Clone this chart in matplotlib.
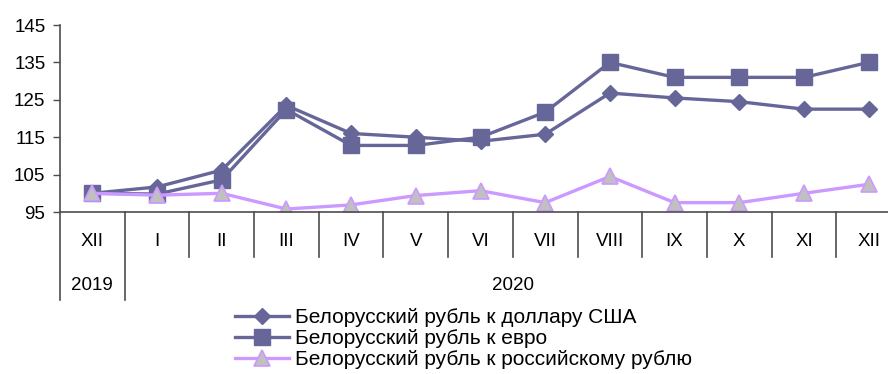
import matplotlib.pyplot as plt
import matplotlib.transforms as mtransforms

months = ['XII', 'I', 'II', 'III', 'IV', 'V', 'VI', 'VII', 'VIII', 'IX', 'X', 'XI', 'XII']
years = ['2019', '2020']
usd = [100, 101.7, 106.2, 123.5, 116, 115, 113.9, 115.8, 126.8, 125.5, 124.5, 122.5, 122.5]
eur = [100, 99.8, 103.6, 122.4, 112.8, 112.8, 115, 121.7, 135, 131, 131, 131, 135]
rub = [100, 99.5, 100, 95.8, 96.9, 99.4, 100.7, 97.5, 104.5, 97.5, 97.5, 100, 102.4]

names = ['Белорусский рубль к доллару США',
         'Белорусский рубль к евро',
         'Белорусский рубль к российскому рублю']

plt.rcParams['font.family'] = ['Liberation Sans', 'DejaVu Sans']

W, H = 888, 374
fig = plt.figure(figsize=(W / 100, H / 100), dpi=100)
ax = fig.add_axes([60 / W, 1 - 212 / H, 841 / W, 187 / H])

dark = '#666699'
light = '#CC99FF'
x = list(range(len(months)))

ax.plot(x, usd, color=dark, lw=2.4, marker='D', ms=8, mfc=dark, mec=dark, label=names[0])
ax.plot(x, eur, color=dark, lw=2.4, marker='s', ms=12, mfc=dark, mec=dark, label=names[1])
ax.plot(x, rub, color=light, lw=2.4, marker='^', ms=11, mfc='#C0C0C0', mec=light,
        mew=1.2, label=names[2])

ax.set_xlim(-0.5, len(months) - 0.5)
ax.set_ylim(95, 145)
ax.set_yticks([95, 105, 115, 125, 135, 145])
ax.tick_params(axis='y', length=5, width=1, color='#4d4d4d', pad=5.5, labelsize=13.5)
ax.set_xticks([])
for s in ['top', 'right']:
    ax.spines[s].set_visible(False)
for s in ['left', 'bottom']:
    ax.spines[s].set_color('#4d4d4d')
    ax.spines[s].set_linewidth(1.2)

# two-level category axis
trans = mtransforms.blended_transform_factory(ax.transData, fig.transFigure)
def fy(px):
    return 1 - px / H

for i in range(1, len(months)):
    xb = i - 0.5
    y_end = 300 if i == 1 else 257
    ax.plot([xb, xb], [fy(212), fy(y_end)], transform=trans, color='#4d4d4d',
            lw=1.2, clip_on=False)
ax.plot([-0.5, -0.5], [fy(212), fy(300)], transform=trans, color='#4d4d4d',
        lw=1.2, clip_on=False)
for i, m in enumerate(months):
    ax.text(i, fy(242), m, transform=trans, ha='center', va='center', fontsize=13.5)
ax.text(0, fy(286), years[0], transform=trans, ha='center', va='center', fontsize=13.5)
ax.text(6.5, fy(286), years[1], transform=trans, ha='center', va='center', fontsize=13.5)

fig.legend(loc='upper left', bbox_to_anchor=(235 / W, fy(308)), frameon=False,
           fontsize=15, borderpad=0, borderaxespad=0, handlelength=2.6,
           handletextpad=0.3, labelspacing=0.1)

fig.savefig('out.png', dpi=100)
